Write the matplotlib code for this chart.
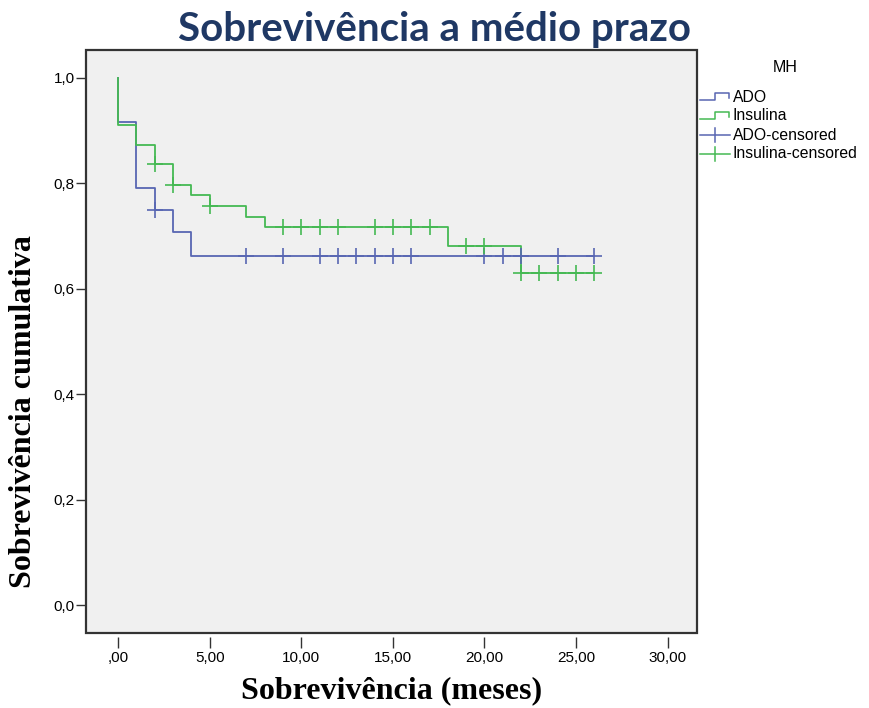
import numpy as np
import matplotlib
matplotlib.use("Agg")
import matplotlib.pyplot as plt
from matplotlib.lines import Line2D
from matplotlib.patches import Rectangle

# Kaplan-Meier steps
ado_t = [0, 0, 1, 2, 3, 4, 26]
ado_s = [1.0, 0.917, 0.792, 0.75, 0.708, 0.662, 0.662]
ins_t = [0, 0, 1, 2, 3, 4, 5, 7, 8, 18, 22, 26]
ins_s = [1.0, 0.911, 0.873, 0.836, 0.797, 0.777, 0.757, 0.737, 0.717, 0.681, 0.630, 0.630]

# censored times
ado_cens = [2, 7, 9, 11, 12, 13, 14, 15, 16, 20, 21, 22, 24, 26]
ins_cens = [2, 3, 5, 9, 10, 11, 12, 14, 15, 16, 17, 19, 20, 22, 23, 24, 25, 26]

x_ticks = [0, 5, 10, 15, 20, 25, 30]
x_labels = [",00", "5,00", "10,00", "15,00", "20,00", "25,00", "30,00"]
y_ticks = [0.0, 0.2, 0.4, 0.6, 0.8, 1.0]
y_labels = ["0,0", "0,2", "0,4", "0,6", "0,8", "1,0"]

BLUE = "#5866b2"
GREEN = "#45b953"
W, H = 869, 708


def step_value(t, s, x):
    i = np.searchsorted(t, x, side="right") - 1
    return s[i]


def px(x, y):
    return x / W, 1 - y / H


fig = plt.figure(figsize=(W / 100, H / 100), dpi=100)
ax = fig.add_axes([86 / W, 1 - 633 / H, 611 / W, 583 / H])
ax.set_facecolor("#f0f0f0")

ax.plot(ado_t, ado_s, drawstyle="steps-post", color=BLUE, lw=1.3)
ax.plot(ins_t, ins_s, drawstyle="steps-post", color=GREEN, lw=1.3)
ax.plot(ado_cens, [step_value(ado_t, ado_s, c) for c in ado_cens], "+",
        color=BLUE, ms=11, mew=1.2)
ax.plot(ins_cens, [step_value(ins_t, ins_s, c) for c in ins_cens], "+",
        color=GREEN, ms=11, mew=1.2)

ax.set_xlim(-1.75, 31.6)
ax.set_ylim(-0.053, 1.053)
ax.set_xticks(x_ticks, x_labels)
ax.set_yticks(y_ticks, y_labels)

for sp in ax.spines.values():
    sp.set_color("none")
ax.spines["bottom"].set_position(("outward", 3))
ax.add_patch(Rectangle((0, 0), 1, 1, transform=ax.transAxes, fill=False,
                       ec="#333333", lw=1.6, clip_on=False, zorder=5))
ax.tick_params(axis="x", length=8, width=1, color="#333333", pad=2, labelsize=11)
ax.tick_params(axis="y", length=7, width=1, color="#333333", pad=1, labelsize=11)
for lab in ax.get_xticklabels() + ax.get_yticklabels():
    lab.set_family("Liberation Sans")

ax.set_xlabel("Sobrevivência (meses)", family="Liberation Serif", weight="bold",
              fontsize=23)
ax.xaxis.set_label_coords(0.5, (633 - 691) / 583, transform=ax.transAxes)
ax.xaxis.label.set_va("center")
ax.set_ylabel("Sobrevivência cumulativa", family="Liberation Serif", weight="bold",
              fontsize=23)
ax.yaxis.set_label_coords((24 - 86) / 611, (633 - 412) / 583)
ax.yaxis.label.set_va("center")

fig.text(0.5, 1 - 41 / H, "Sobrevivência a médio prazo", ha="center", va="baseline",
         family="Lato", weight="bold", fontsize=29, color="#1f3864", zorder=-1)

# legend drawn by hand (SPSS style)
fig.text(*px(785, 68), "MH", ha="center", va="center", family="Liberation Sans",
         fontsize=11.5)
entries = [("ADO", BLUE, "step"), ("Insulina", GREEN, "step"),
           ("ADO-censored", BLUE, "cross"), ("Insulina-censored", GREEN, "cross")]
for i, (name, col, kind) in enumerate(entries):
    yc = 97 + i * 19
    if kind == "step":
        pts = [px(700, yc + 3), px(715, yc + 3), px(715, yc - 4), px(729, yc - 4), px(729, yc + 1)]
        xs, ys = zip(*pts)
        fig.add_artist(Line2D(xs, ys, color=col, lw=1.1))
    else:
        xs, ys = zip(px(700, yc), px(730, yc))
        fig.add_artist(Line2D(xs, ys, color=col, lw=1.1))
        xs, ys = zip(px(715, yc - 7), px(715, yc + 7))
        fig.add_artist(Line2D(xs, ys, color=col, lw=1.1))
    fig.text(*px(733, yc), name, ha="left", va="center", family="Liberation Sans",
             fontsize=11.3)

fig.savefig("out.png", dpi=100)
